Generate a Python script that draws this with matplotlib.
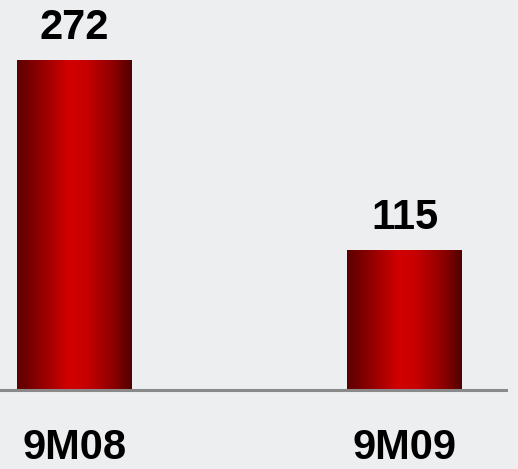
import numpy as np
import matplotlib
matplotlib.use("Agg")
import matplotlib.pyplot as plt
from matplotlib.colors import LinearSegmentedColormap

categories = ["9M08", "9M09"]
values = [272, 115]

W, H, DPI = 518, 469, 100
fig = plt.figure(figsize=(W / DPI, H / DPI), dpi=DPI)
bg = "#eceef0"
fig.patch.set_facecolor(bg)

ax = fig.add_axes([0, 79 / H, 506 / W, 390 / H])
ax.set_facecolor(bg)

x = np.arange(len(categories))
bw = 115 / 330

cmap = LinearSegmentedColormap.from_list(
    "redgrad",
    [(0.0, "#5c0000"), (0.12, "#7a0000"), (0.45, "#d20000"),
     (0.6, "#c80000"), (0.85, "#8a0000"), (1.0, "#500000")])
grad = np.linspace(0, 1, 256).reshape(1, -1)

bars = ax.bar(x, values, width=bw, color="none", edgecolor="none", zorder=2)
for b in bars:
    x0, y0 = b.get_x(), b.get_y()
    im = ax.imshow(grad, cmap=cmap, aspect="auto",
                   extent=[x0, x0 + b.get_width(), y0, y0 + b.get_height()],
                   zorder=2, interpolation="bilinear")
    im.set_clip_path(b)
ax.set_xlim(-74.5 / 330, (506 - 74.5) / 330)
ax.set_ylim(0, 390 / 1.215)

font = dict(family=["Liberation Sans", "DejaVu Sans"], weight="bold", size=30)
for xi, v in zip(x, values):
    ax.annotate(str(v), (xi, v), xytext=(0, 15), textcoords="offset points",
                ha="center", va="baseline", color="black", **font)

for s in ["top", "left", "right"]:
    ax.spines[s].set_visible(False)
ax.spines["bottom"].set_color("#8a8a8a")
ax.spines["bottom"].set_linewidth(2.2)
ax.set_yticks([])
ax.set_xticks(x)
ax.set_xticklabels(categories, fontdict=font)
ax.tick_params(axis="x", length=0, pad=27)

fig.savefig("out.png", dpi=DPI, facecolor=bg)
